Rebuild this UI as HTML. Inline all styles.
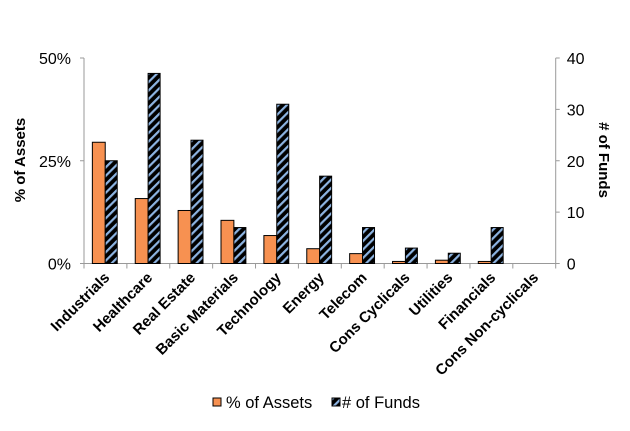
<!DOCTYPE html>
<html><head><meta charset="utf-8"><style>
body{margin:0;background:#fff;font-family:"Liberation Sans",Arial,sans-serif}
svg text{font-family:"Liberation Sans",Arial,sans-serif}
</style></head><body>
<svg width="630" height="426" viewBox="0 0 630 426">
<defs>
<pattern id="hatch" patternUnits="userSpaceOnUse" width="6" height="6" patternTransform="rotate(45)">
<rect width="6" height="6" fill="#000"/><rect x="0" y="0" width="2.2" height="6" fill="#8db4e2"/>
</pattern>
</defs>
<g id="chart"></g>
</svg>
<script>
const categories=["Industrials","Healthcare","Real Estate","Basic Materials","Technology","Energy","Telecom","Cons Cyclicals","Utilities","Financials","Cons Non-cyclicals"];
const assetsPct=[29.5,15.8,12.9,10.5,6.8,3.6,2.4,0.5,0.8,0.5,0];
const fundsCount=[20,37,24,7,31,17,7,3,2,7,0];
const leftTicks=[0,25,50];
const leftTickLabels=["0%","25%","50%"];
const rightTicks=[0,10,20,30,40];

const NS="http://www.w3.org/2000/svg";
const g=document.getElementById("chart");
const X0=84,X1=555.7,Y0=263.5,Y1=58;
const cw=(X1-X0)/categories.length;
const yL=v=>Y0-(v/50)*(Y0-Y1);
const yR=v=>Y0-(v/40)*(Y0-Y1);
function el(t,a,txt){const e=document.createElementNS(NS,t);for(const k in a)e.setAttribute(k,a[k]);if(txt!==undefined)e.textContent=txt;g.appendChild(e);return e;}

let ax=el("line",{x1:X0,y1:Y1,x2:X0,y2:Y0,stroke:"#999","stroke-width":1});


ax=el("line",{x1:X1,y1:Y1,x2:X1,y2:Y0,stroke:"#999","stroke-width":1});


ax=el("line",{x1:X0,y1:Y0,x2:X1,y2:Y0,stroke:"#999","stroke-width":1});



leftTicks.forEach((v,i)=>{
  const t=el("text",{x:X0-13,y:yL(v)+6,"text-anchor":"end","font-size":16},leftTickLabels[i]);
  
  
  el("line",{x1:X0-4,y1:yL(v),x2:X0,y2:yL(v),stroke:"#999"});
});
rightTicks.forEach(v=>{
  const t=el("text",{x:X1+11,y:yR(v)+6,"text-anchor":"start","font-size":16},String(v));
  
  
  el("line",{x1:X1,y1:yR(v),x2:X1+4,y2:yR(v),stroke:"#999"});
});
for(let i=0;i<=categories.length;i++){
  el("line",{x1:X0+i*cw,y1:Y0,x2:X0+i*cw,y2:Y0+5,stroke:"#999"});
}
categories.forEach((c,i)=>{
  const bx=X0+i*cw+cw*0.195, bw=cw*0.3;
  const r1=el("rect",{x:bx,y:yL(assetsPct[i]),width:bw,height:Y0-yL(assetsPct[i]),fill:"#f79151",stroke:"#000","stroke-width":1});
  
  
  const r2=el("rect",{x:bx+bw,y:yR(fundsCount[i]),width:cw*0.28,height:Y0-yR(fundsCount[i]),fill:"url(#hatch)",stroke:"#000","stroke-width":1});
  
  
  const cx=X0+(i+0.5)*cw+5, cy=Y0+15;
  const t=el("text",{x:cx,y:cy,"text-anchor":"end","font-size":15,"font-weight":"bold",transform:`rotate(-45 ${cx} ${cy})`},c);
  
  
});
let tt=el("text",{x:25,y:160,"text-anchor":"middle","font-size":15,"font-weight":"bold",transform:"rotate(-90 25 160)"},"% of Assets");


tt=el("text",{x:599,y:160,"text-anchor":"middle","font-size":15,"font-weight":"bold",transform:"rotate(90 599 160)"},"# of Funds");


let lg=el("rect",{x:213,y:398,width:8,height:8,fill:"#f79151",stroke:"#000","stroke-width":1});


lg=el("text",{x:226,y:408,"font-size":16.5},"% of Assets");


lg=el("rect",{x:332,y:398,width:8,height:8,fill:"url(#hatch)",stroke:"#000","stroke-width":1});


lg=el("text",{x:342,y:408,"font-size":16.5},"# of Funds");


</script>
</body></html>
